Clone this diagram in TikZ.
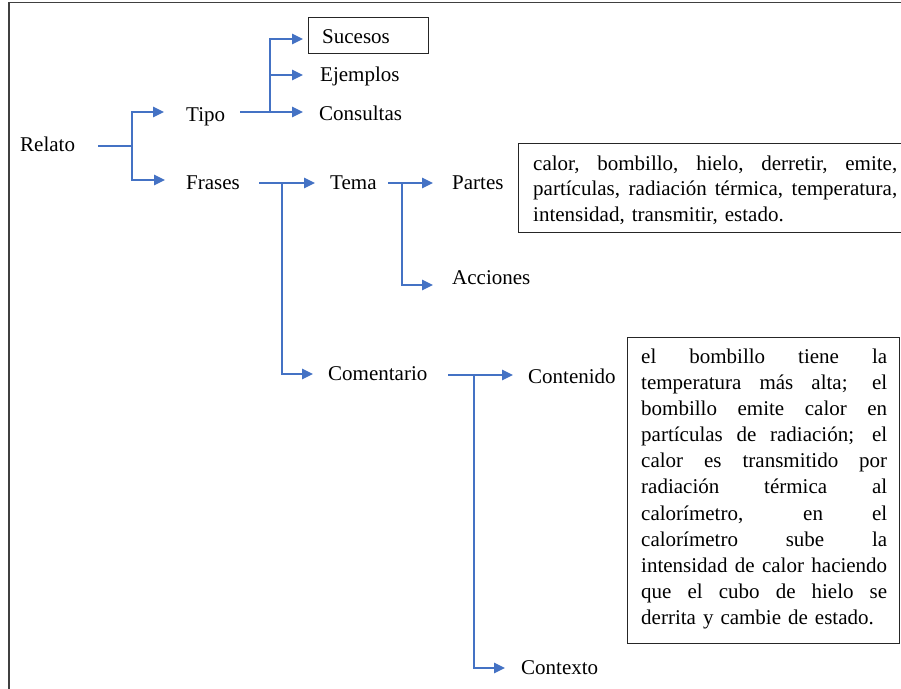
\documentclass[tikz,border=0pt]{standalone}
\usepackage{fontspec}
\setmainfont{Liberation Serif}
\usetikzlibrary{arrows.meta}
\definecolor{linkblue}{HTML}{4472C4}
\definecolor{framegray}{HTML}{404040}
\newcommand\jline[2]{\makebox[#1][s]{\spaceskip=0pt\xspaceskip=0pt\relax #2}}
\begin{document}
\begin{tikzpicture}[x=1pt,y=-1pt,
  lbl/.style={anchor=base west, inner sep=0pt, font=\fontsize{21}{26}\selectfont},
  wire/.style={draw=linkblue, line width=1.4pt},
  arr/.style={wire, -{Triangle[length=11pt,width=10.5pt]}},
  boxframe/.style={draw=black!85, line width=1.1pt, rectangle, inner sep=0pt, anchor=north west},
  boxtextA/.style={anchor=north west, inner sep=0pt, align=left, text width=365pt, font=\fontsize{21}{25.5}\selectfont},
  boxtextB/.style={anchor=north west, inner sep=0pt, align=left, text width=247pt, font=\fontsize{21}{26.1}\selectfont}]
\useasboundingbox (0,0) rectangle (901,688);
% outer frame (top and left edges visible)
\draw[framegray, line width=1.6pt] (9,690) -- (9,2.5) -- (903,2.5);

% labels
\node[lbl] (relato) at (20,151) {Relato};
\node[lbl] (tipo) at (186,121) {Tipo};
\node[lbl] (frases) at (186,189) {Frases};
\node[boxframe, minimum width=120pt, minimum height=36pt] (sucbox) at (308,17) {};
\node[lbl] (sucesos) at (322,43) {Sucesos};
\node[lbl] (ejemplos) at (320,81) {Ejemplos};
\node[lbl] (consultas) at (319,120) {Consultas};
\node[lbl] (tema) at (330,189) {Tema};
\node[lbl] (partes) at (452,189) {Partes};
\node[lbl] (acciones) at (452,284) {Acciones};
\node[lbl] (comentario) at (328,380) {Comentario};
\node[lbl] (contenido) at (528,383) {Contenido};
\node[lbl] (contexto) at (521,674) {Contexto};

% text boxes
\node[boxframe, minimum width=385pt, minimum height=89pt] (box1) at (518,143) {};
\node[boxtextA] (box1txt) at (533,155.7) {%
\jline{364pt}{calor, bombillo, hielo, derretir, emite,}\\
\jline{364pt}{partículas, radiación térmica, temperatura,}\\
intensidad, transmitir, estado.};

\node[boxframe, minimum width=272pt, minimum height=306pt] (box2) at (627,337) {};
\node[boxtextB] (box2txt) at (641,348.7) {%
\jline{246pt}{el bombillo tiene la}\\
\jline{246pt}{temperatura más alta; el}\\
\jline{246pt}{bombillo emite calor en}\\
\jline{246pt}{partículas de radiación; el}\\
\jline{246pt}{calor es transmitido por}\\
\jline{246pt}{radiación térmica al}\\
\jline{246pt}{calorímetro, en el}\\
\jline{246pt}{calorímetro sube la}\\
\jline{246pt}{intensidad de calor haciendo}\\
\jline{246pt}{que el cubo de hielo se}\\
derrita y cambie de estado.};

% connector points
\coordinate (r-out) at (98,146);
\coordinate (r-j) at (132,146);
\coordinate (tipo-in) at (164,112);
\coordinate (frases-in) at (165,180);
\coordinate (tipo-out) at (240,112);
\coordinate (tipo-j) at (270,112);
\coordinate (sucesos-in) at (303,39);
\coordinate (ejemplos-in) at (303,75);
\coordinate (consultas-in) at (303,112);
\coordinate (fr-out) at (259,183);
\coordinate (fr-j) at (282,183);
\coordinate (tema-in) at (315,183);
\coordinate (coment-in) at (313,374);
\coordinate (te-out) at (388,183);
\coordinate (te-j) at (402,183);
\coordinate (partes-in) at (433,183);
\coordinate (acciones-in) at (433,285);
\coordinate (co-out) at (448,375);
\coordinate (co-j) at (474,375);
\coordinate (contenido-in) at (513,375);
\coordinate (contexto-in) at (505,668);

% connectors
\draw[wire] (r-out) -- (r-j);
\draw[arr] (r-j) |- (tipo-in);
\draw[arr] (r-j) |- (frases-in);

\draw[wire] (tipo-out) -- (tipo-j);
\draw[arr] (tipo-j) |- (sucesos-in);
\draw[arr] (tipo-j) |- (ejemplos-in);
\draw[arr] (tipo-j) -- (consultas-in);

\draw[arr] (fr-out) -- (tema-in);
\draw[arr] (fr-j) |- (coment-in);

\draw[arr] (te-out) -- (partes-in);
\draw[arr] (te-j) |- (acciones-in);

\draw[arr] (co-out) -- (contenido-in);
\draw[arr] (co-j) |- (contexto-in);
\end{tikzpicture}
\end{document}
